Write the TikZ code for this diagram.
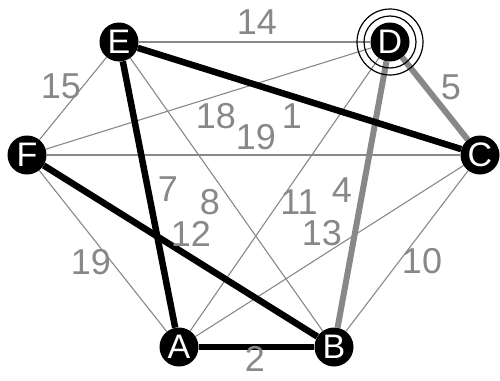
\documentclass[tikz,border=0pt]{standalone}
\usepackage{fontspec}
\setmainfont{Liberation Sans}
\usetikzlibrary{backgrounds}
\definecolor{wgray}{HTML}{888888}
\begin{document}
\begin{tikzpicture}[x=1pt,y=-1pt,
  vertex/.style={circle,fill=black,minimum size=39pt,inner sep=0pt,
    text=white,font=\fontsize{34}{34}\selectfont},
  weight/.style={text=wgray,inner sep=0pt,font=\fontsize{36}{36}\selectfont},
  plain/.style={draw=wgray,line width=1.1pt},
  chosen/.style={draw=black,line width=6.5pt},
  altpath/.style={draw=wgray,line width=6pt}]
\useasboundingbox (0,0) rectangle (500,380);

% vertices
\node[vertex] (E) at (119,42) {E};
\node[vertex] (D) at (390,42) {D};
\node[vertex] (F) at (27,155) {F};
\node[vertex] (C) at (480,155) {C};
\node[vertex] (A) at (179,347) {A};
\node[vertex] (B) at (334,347) {B};

% rings around the target vertex
\draw[line width=1.2pt] (D.center) circle (26);
\draw[line width=1.2pt] (D.center) circle (33);

% edges
\begin{scope}[on background layer]
\path[plain] (E) -- (D);
\path[plain] (E) -- (F);
\path[plain] (E) -- (B);
\path[plain] (F) -- (D);
\path[plain] (F) -- (C);
\path[plain] (F) -- (A);
\path[plain] (D) -- (A);
\path[plain] (A) -- (C);
\path[plain] (B) -- (C);
\path[altpath] (D) -- (B);
\path[altpath] (D) -- (C);
\path[chosen] (E) -- (A);
\path[chosen] (E) -- (C);
\path[chosen] (F) -- (B);
\path[chosen] (A) -- (B);
\end{scope}

% edge weights
\node[weight] (w14) at (257,22) {14};
\node[weight] (w15) at (61,86) {15};
\node[weight] (w5) at (451,87) {5};
\node[weight] (w18) at (216,116) {18};
\node[weight] (w19a) at (256,137) {19};
\node[weight] (w1) at (292,116) {1};
\node[weight] (w7) at (168,189) {7};
\node[weight] (w8) at (210,202) {8};
\node[weight] (w12) at (191,234) {12};
\node[weight] (w11) at (299,202) {11};
\node[weight] (w4) at (342,190) {4};
\node[weight] (w13) at (322,233) {13};
\node[weight] (w19b) at (91,262) {19};
\node[weight] (w10) at (422,261) {10};
\node[weight] (w2) at (255,359) {2};
\end{tikzpicture}
\end{document}
